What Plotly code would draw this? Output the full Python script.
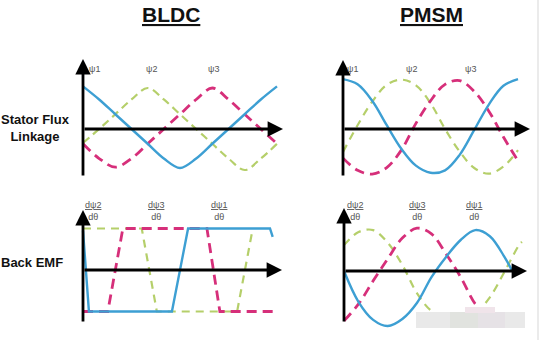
import plotly.graph_objects as go

W, H = 542, 340

# ---------------- data ----------------
angles = [0, 30, 60, 90, 120, 150, 180, 210, 240, 270, 300, 330, 360]

# BLDC stator flux linkage (trapezoid-derived, near-triangular)
bldc_flux_blue = [1.04, 0.72, 0.36, 0.0, -0.36, -0.72, -0.95, -0.72, -0.36, 0.0, 0.36, 0.72, 1.04]
bldc_flux_green = [-0.34, 0.0, 0.36, 0.72, 1.0, 0.72, 0.36, 0.0, -0.36, -0.72, -1.0, -0.72, -0.36]
bldc_flux_pink = [-0.36, -0.72, -0.93, -0.72, -0.36, 0.0, 0.36, 0.72, 1.0, 0.72, 0.36, 0.0, -0.36]

# BLDC back EMF (trapezoidal)
bldc_emf_blue_deg = [0, 11, 165, 195, 347, 352]
bldc_emf_blue = [0.95, -1, -1, 1, 1, 0.8]
bldc_emf_green_deg = [0, 109, 137, 286, 315]
bldc_emf_green = [1, 1, -1, -1, 1]
bldc_emf_pink_deg = [0, 46, 74, 230, 254, 352]
bldc_emf_pink = [-1, -1, 1, 1, -1, -1]

# PMSM stator flux linkage (sinusoidal)
pmsm_flux_blue = [1.06, 0.95, 0.60, 0.08, -0.42, -0.78, -0.93, -0.88, -0.55, -0.02, 0.52, 0.92, 1.06]
pmsm_flux_green = [-0.49, 0.08, 0.58, 0.94, 1.05, 0.93, 0.55, 0.0, -0.48, -0.83, -0.95, -0.80, -0.45]
pmsm_flux_pink = [-0.62, -0.88, -0.96, -0.82, -0.45, 0.12, 0.60, 0.95, 1.03, 0.80, 0.38, -0.17, -0.68]

# PMSM back EMF (sinusoidal)
pmsm_emf_blue_deg = [0, 30, 60, 90, 120, 150, 180, 210, 240, 270, 300, 330, 346]
pmsm_emf_blue = [0.0, -0.66, -1.04, -1.17, -1.02, -0.68, -0.13, 0.30, 0.66, 0.87, 0.74, 0.30, 0.0]
pmsm_emf_green_deg = [0, 30, 60, 90, 120, 150, 180, 210, 240, 270, 300, 330, 360, 366]
pmsm_emf_green = [0.55, 0.83, 0.87, 0.60, 0.13, -0.47, -0.85, -0.98, -0.97, -0.90, -0.56, -0.02, 0.55, 0.62]
pmsm_emf_pink_deg = [0, 30, 60, 90, 120, 150, 180, 210, 240, 270, 285, 300]
pmsm_emf_pink = [-1.06, -0.70, -0.21, 0.26, 0.70, 0.91, 0.79, 0.36, -0.13, -0.70, -0.83, -0.77]

titles = ["BLDC", "PMSM"]
row_labels = ["Stator Flux<br>Linkage", "Back EMF"]
flux_labels = ["ψ1", "ψ2", "ψ3"]
flux_label_deg_bldc = [22, 128, 243]
flux_label_deg_pmsm = [20, 140, 262]
emf_labels = ["dψ2", "dψ3", "dψ1"]
emf_label_deg_bldc = [19, 136, 253]
emf_label_deg_pmsm = [22, 150, 268]

BLUE = "#3d9fd3"
GREEN = "#b5cf6a"
PINK = "#d62f7a"
FONT = "Liberation Sans, Arial, sans-serif"

# ---------------- panel geometry (pixels) ----------------
panels = [
    dict(xpx=(70, 290), ypx=(50, 185), x0=83, dpp=194 / 360, y0=129, unit=41,
         ytop=59, ybot=177, xend=283),
    dict(xpx=(70, 290), ypx=(195, 335), x0=83, dpp=194 / 360, y0=270, unit=41.5,
         ytop=210, ybot=323, xend=282),
    dict(xpx=(330, 540), ypx=(50, 185), x0=343, dpp=175 / 360, y0=129, unit=47,
         ytop=60, ybot=177, xend=530),
    dict(xpx=(330, 540), ypx=(195, 335), x0=344, dpp=175 / 360, y0=271, unit=47,
         ytop=208, ybot=323, xend=527),
]

fig = go.Figure()
layout_axes = {}
annotations = []

series = [
    (0, angles, bldc_flux_green, GREEN, 2.2, "8px,5px", "spline"),
    (0, angles, bldc_flux_pink, PINK, 2.8, "10px,6px", "spline"),
    (0, angles, bldc_flux_blue, BLUE, 2.4, "solid", "spline"),
    (1, bldc_emf_green_deg, bldc_emf_green, GREEN, 2.2, "8px,6px", "linear"),
    (1, bldc_emf_pink_deg, bldc_emf_pink, PINK, 2.8, "10px,6px", "linear"),
    (1, bldc_emf_blue_deg, bldc_emf_blue, BLUE, 2.4, "solid", "linear"),
    (2, angles, pmsm_flux_green, GREEN, 2.2, "8px,6px", "spline"),
    (2, angles, pmsm_flux_pink, PINK, 2.8, "10px,6px", "spline"),
    (2, angles, pmsm_flux_blue, BLUE, 2.4, "solid", "spline"),
    (3, pmsm_emf_green_deg, pmsm_emf_green, GREEN, 2.2, "8px,6px", "spline"),
    (3, pmsm_emf_pink_deg, pmsm_emf_pink, PINK, 2.8, "10px,6px", "spline"),
    (3, pmsm_emf_blue_deg, pmsm_emf_blue, BLUE, 2.4, "solid", "spline"),
]

for i, p in enumerate(panels):
    n = "" if i == 0 else str(i + 1)
    xr = [(p["xpx"][0] - p["x0"]) / p["dpp"], (p["xpx"][1] - p["x0"]) / p["dpp"]]
    yr = [(p["y0"] - p["ypx"][1]) / p["unit"], (p["y0"] - p["ypx"][0]) / p["unit"]]
    layout_axes["xaxis" + n] = dict(domain=[p["xpx"][0] / W, p["xpx"][1] / W], range=xr,
                                   visible=False, anchor="y" + n, fixedrange=True)
    layout_axes["yaxis" + n] = dict(domain=[1 - p["ypx"][1] / H, 1 - p["ypx"][0] / H], range=yr,
                                   visible=False, anchor="x" + n, fixedrange=True)
    p["xref"], p["yref"] = "x" + n, "y" + n
    xe = (p["xend"] - p["x0"]) / p["dpp"]
    yt = (p["y0"] - p["ytop"]) / p["unit"]
    yb = (p["y0"] - p["ybot"]) / p["unit"]
    for (tx, ty, sx, sy) in ((xe, 0, 0, 0), (0, yt, 0, yb)):
        annotations.append(dict(x=tx, y=ty, ax=sx, ay=sy, xref=p["xref"], yref=p["yref"],
                                axref=p["xref"], ayref=p["yref"], text="", showarrow=True,
                                arrowhead=2, arrowsize=1.1, arrowwidth=2.8, arrowcolor="black",
                                standoff=0, startstandoff=0))

for pi, xs, ys, c, w, d, s in series:
    p = panels[pi]
    fig.add_trace(go.Scatter(x=xs, y=ys, mode="lines",
                             line=dict(color=c, width=w, dash=d, shape=s),
                             xaxis=p["xref"], yaxis=p["yref"], hoverinfo="skip",
                             showlegend=False))

# curve labels
for pi, degs in ((0, flux_label_deg_bldc), (2, flux_label_deg_pmsm)):
    p = panels[pi]
    yl = (p["y0"] - 69) / p["unit"]
    for lab, deg in zip(flux_labels, degs):
        annotations.append(dict(x=deg, y=yl, xref=p["xref"], yref=p["yref"], text=lab,
                                xanchor="center", yanchor="middle",
                                showarrow=False, font=dict(family=FONT, size=9, color="#555555")))
for pi, degs in ((1, emf_label_deg_bldc), (3, emf_label_deg_pmsm)):
    p = panels[pi]
    yl = (p["y0"] - 211) / p["unit"]
    for lab, deg in zip(emf_labels, degs):
        annotations.append(dict(x=deg, y=yl, xref=p["xref"], yref=p["yref"],
                                text="<u>" + lab + "</u><br>dθ", showarrow=False,
                                xanchor="center", yanchor="middle",
                                font=dict(family=FONT, size=9, color="#555555")))

# titles
for t, cx in zip(titles, (171, 431)):
    annotations.append(dict(x=cx / W, y=1 - 15 / H, xref="paper", yref="paper",
                            xanchor="center", yanchor="middle",
                            text="<b><u>" + t + "</u></b>", showarrow=False,
                            font=dict(family=FONT, size=21, color="#111111")))
# row labels
for t, cx, cy in zip(row_labels, (35, 32), (128, 262)):
    annotations.append(dict(x=cx / W, y=1 - cy / H, xref="paper", yref="paper",
                            xanchor="center", yanchor="middle",
                            text="<b>" + t + "</b>", showarrow=False,
                            font=dict(family=FONT, size=13, color="#111111")))

shapes = [
    dict(type="rect", xref="paper", yref="paper", x0=416 / W, x1=525 / W,
         y0=1 - 328 / H, y1=1 - 312 / H, fillcolor="#e9e9e9", line=dict(width=0), layer="above"),
    dict(type="rect", xref="paper", yref="paper", x0=450 / W, x1=478 / W,
         y0=1 - 328 / H, y1=1 - 312 / H, fillcolor="#e1e3df", line=dict(width=0), layer="above"),
    dict(type="rect", xref="paper", yref="paper", x0=478 / W, x1=505 / W,
         y0=1 - 328 / H, y1=1 - 312 / H, fillcolor="#e6e2e6", line=dict(width=0), layer="above"),
    dict(type="rect", xref="paper", yref="paper", x0=465 / W, x1=495 / W,
         y0=1 - 313 / H, y1=1 - 307 / H, fillcolor="#f0e4ea", line=dict(width=0), layer="above"),
    dict(type="line", xref="paper", yref="paper", x0=538 / W, x1=538 / W, y0=0, y1=1,
         line=dict(color="#e4e4e4", width=1.5)),
]

fig.update_layout(width=W, height=H, margin=dict(l=0, r=0, t=0, b=0),
                  paper_bgcolor="white", plot_bgcolor="rgba(0,0,0,0)",
                  annotations=annotations, shapes=shapes, **layout_axes)

fig.write_html("out.html", config={"displayModeBar": False})
